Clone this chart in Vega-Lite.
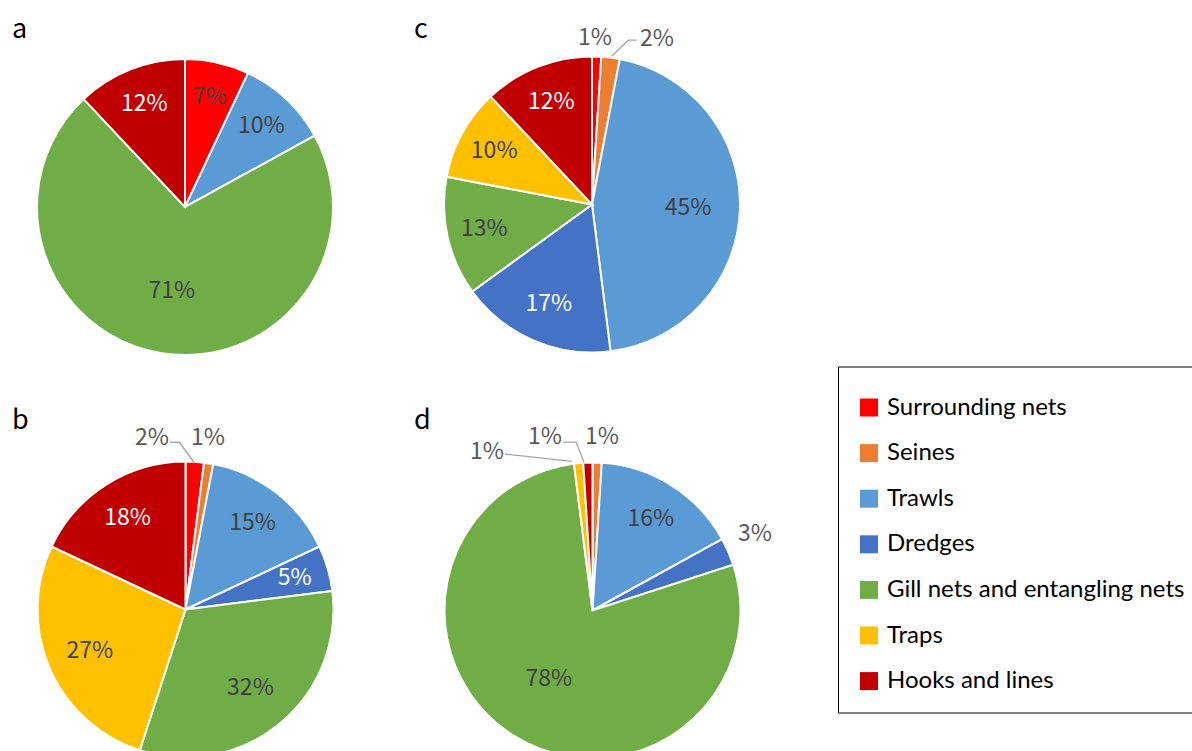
{
  "$schema": "https://vega.github.io/schema/vega-lite/v6.json",
  "background": "white",
  "padding": {"left": 12, "top": 15.5, "right": 0, "bottom": 0},
  "autosize": {"type": "pad"},
  "columns": 2,
  "spacing": {"row": 20, "column": 0},
  "bounds": "flush",
  "datasets": {
    "shares": [
      {"panel": "a", "gear": "Surrounding nets", "no": 1, "share": 0.07},
      {"panel": "a", "gear": "Trawls", "no": 3, "share": 0.10},
      {"panel": "a", "gear": "Gill nets and entangling nets", "no": 5, "share": 0.71},
      {"panel": "a", "gear": "Hooks and lines", "no": 7, "share": 0.12},
      {"panel": "b", "gear": "Surrounding nets", "no": 1, "share": 0.02},
      {"panel": "b", "gear": "Seines", "no": 2, "share": 0.01},
      {"panel": "b", "gear": "Trawls", "no": 3, "share": 0.15},
      {"panel": "b", "gear": "Dredges", "no": 4, "share": 0.05},
      {"panel": "b", "gear": "Gill nets and entangling nets", "no": 5, "share": 0.32},
      {"panel": "b", "gear": "Traps", "no": 6, "share": 0.27},
      {"panel": "b", "gear": "Hooks and lines", "no": 7, "share": 0.18},
      {"panel": "c", "gear": "Surrounding nets", "no": 1, "share": 0.01},
      {"panel": "c", "gear": "Seines", "no": 2, "share": 0.02},
      {"panel": "c", "gear": "Trawls", "no": 3, "share": 0.45},
      {"panel": "c", "gear": "Dredges", "no": 4, "share": 0.17},
      {"panel": "c", "gear": "Gill nets and entangling nets", "no": 5, "share": 0.13},
      {"panel": "c", "gear": "Traps", "no": 6, "share": 0.10},
      {"panel": "c", "gear": "Hooks and lines", "no": 7, "share": 0.12},
      {"panel": "d", "gear": "Seines", "no": 2, "share": 0.01},
      {"panel": "d", "gear": "Trawls", "no": 3, "share": 0.16},
      {"panel": "d", "gear": "Dredges", "no": 4, "share": 0.03},
      {"panel": "d", "gear": "Gill nets and entangling nets", "no": 5, "share": 0.78},
      {"panel": "d", "gear": "Traps", "no": 6, "share": 0.01},
      {"panel": "d", "gear": "Hooks and lines", "no": 7, "share": 0.01}
    ],
    "callouts": [
      {"panel": "b", "gear": "Surrounding nets", "share": 0.02, "lx": -0.226, "ly": 1.162},
      {"panel": "b", "gear": "Seines", "share": 0.01, "lx": 0.152, "ly": 1.162},
      {"panel": "c", "gear": "Surrounding nets", "share": 0.01, "lx": 0.02, "ly": 1.128},
      {"panel": "c", "gear": "Seines", "share": 0.02, "lx": 0.439, "ly": 1.115},
      {"panel": "d", "gear": "Traps", "share": 0.01, "lx": -0.713, "ly": 1.074},
      {"panel": "d", "gear": "Hooks and lines", "share": 0.01, "lx": -0.321, "ly": 1.169},
      {"panel": "d", "gear": "Seines", "share": 0.01, "lx": 0.064, "ly": 1.169},
      {"panel": "d", "gear": "Dredges", "share": 0.03, "lx": 1.098, "ly": 0.514}
    ],
    "leaders": [
      {"panel": "b", "gear": "Surrounding nets", "pt": 1, "lx": -0.105, "ly": 1.130},
      {"panel": "b", "gear": "Surrounding nets", "pt": 2, "lx": -0.042, "ly": 1.130},
      {"panel": "b", "gear": "Surrounding nets", "pt": 3, "lx": 0.057, "ly": 0.995},
      {"panel": "c", "gear": "Seines", "pt": 1, "lx": 0.302, "ly": 1.110},
      {"panel": "c", "gear": "Seines", "pt": 2, "lx": 0.245, "ly": 1.110},
      {"panel": "c", "gear": "Seines", "pt": 3, "lx": 0.133, "ly": 1.002},
      {"panel": "d", "gear": "Traps", "pt": 1, "lx": -0.591, "ly": 1.057},
      {"panel": "d", "gear": "Traps", "pt": 2, "lx": -0.139, "ly": 1.007},
      {"panel": "d", "gear": "Hooks and lines", "pt": 1, "lx": -0.197, "ly": 1.137},
      {"panel": "d", "gear": "Hooks and lines", "pt": 2, "lx": -0.111, "ly": 1.137},
      {"panel": "d", "gear": "Hooks and lines", "pt": 3, "lx": -0.057, "ly": 1.002}
    ]
  },
  "concat": [
    {
      "title": {"text": "a", "offset": -24},
      "width": 402, "height": 370,
      "layer": [
        {
          "data": {"name": "shares"}, "transform": [{"filter": "datum.panel === 'a'"}],
          "mark": {"type": "arc", "outerRadius": 148, "stroke": "white", "strokeWidth": 2},
          "encoding": {
            "x": {"datum": 0, "type": "quantitative", "scale": {"domain": [-1.1689, 1.5473], "nice": false, "zero": false}, "axis": null},
            "y": {"datum": 0, "type": "quantitative", "scale": {"domain": [-1.2331, 1.2669], "nice": false, "zero": false}, "axis": null},
            "theta": {"field": "share", "type": "quantitative", "stack": true},
            "order": {"field": "no", "type": "quantitative"},
            "color": {"field": "gear", "type": "nominal",
              "scale": {"domain": ["Surrounding nets", "Seines", "Trawls", "Dredges", "Gill nets and entangling nets", "Traps", "Hooks and lines"], "range": ["#FF0000", "#ED7D31", "#5B9BD5", "#4472C4", "#70AD47", "#FFC000", "#C00000"]},
              "legend": {"orient": "none", "legendX": 826, "legendY": 347, "title": "\u00a0"}}
          }
        },
        {
          "data": {"name": "shares"}, "transform": [{"filter": "datum.panel === 'a'"}],
          "mark": {"type": "text", "font": "Noto Sans CJK JP", "fontSize": 23, "align": "center", "baseline": "middle"},
          "encoding": {
            "x": {"datum": 0, "type": "quantitative", "scale": {"domain": [-1.1689, 1.5473], "nice": false, "zero": false}, "axis": null},
            "y": {"datum": 0, "type": "quantitative", "scale": {"domain": [-1.2331, 1.2669], "nice": false, "zero": false}, "axis": null},
            "theta": {"field": "share", "type": "quantitative", "stack": true},
            "order": {"field": "no", "type": "quantitative"},
            "radius": {"field": "share", "type": "quantitative", "scale": {"type": "linear", "domain": [0, 1], "range": [116, 72], "zero": false}, "legend": null},
            "text": {"condition": {"test": "datum.share >= 0.05", "field": "share", "type": "quantitative", "format": ".0%"}, "value": ""},
            "color": {"condition": {"test": "datum.gear === 'Hooks and lines' || datum.gear === 'Dredges'", "value": "#FFFFFF"}, "value": "#404040"}
          }
        }
      ]
    },
    {
      "title": {"text": "c", "offset": -24},
      "width": 402, "height": 370,
      "layer": [
        {
          "data": {"name": "shares"}, "transform": [{"filter": "datum.panel === 'c'"}],
          "mark": {"type": "arc", "outerRadius": 148, "stroke": "white", "strokeWidth": 2},
          "encoding": {
            "x": {"datum": 0, "type": "quantitative", "scale": {"domain": [-1.2027, 1.5135], "nice": false, "zero": false}, "axis": null},
            "y": {"datum": 0, "type": "quantitative", "scale": {"domain": [-1.25, 1.25], "nice": false, "zero": false}, "axis": null},
            "theta": {"field": "share", "type": "quantitative", "stack": true},
            "order": {"field": "no", "type": "quantitative"},
            "color": {"field": "gear", "type": "nominal",
              "scale": {"domain": ["Surrounding nets", "Seines", "Trawls", "Dredges", "Gill nets and entangling nets", "Traps", "Hooks and lines"], "range": ["#FF0000", "#ED7D31", "#5B9BD5", "#4472C4", "#70AD47", "#FFC000", "#C00000"]},
              "legend": {"orient": "none", "legendX": 826, "legendY": 347, "title": "\u00a0"}}
          }
        },
        {
          "data": {"name": "shares"}, "transform": [{"filter": "datum.panel === 'c'"}],
          "mark": {"type": "text", "font": "Noto Sans CJK JP", "fontSize": 23, "align": "center", "baseline": "middle"},
          "encoding": {
            "x": {"datum": 0, "type": "quantitative", "scale": {"domain": [-1.2027, 1.5135], "nice": false, "zero": false}, "axis": null},
            "y": {"datum": 0, "type": "quantitative", "scale": {"domain": [-1.25, 1.25], "nice": false, "zero": false}, "axis": null},
            "theta": {"field": "share", "type": "quantitative", "stack": true},
            "order": {"field": "no", "type": "quantitative"},
            "radius": {"field": "share", "type": "quantitative", "scale": {"type": "linear", "domain": [0, 1], "range": [116, 72], "zero": false}, "legend": null},
            "text": {"condition": {"test": "datum.share >= 0.05", "field": "share", "type": "quantitative", "format": ".0%"}, "value": ""},
            "color": {"condition": {"test": "datum.gear === 'Hooks and lines' || datum.gear === 'Dredges'", "value": "#FFFFFF"}, "value": "#404040"}
          }
        },
        {
          "data": {"name": "leaders"}, "transform": [{"filter": "datum.panel === 'c'"}],
          "mark": {"type": "line", "color": "#A5A5A5", "strokeWidth": 1.3},
          "encoding": {
            "x": {"field": "lx", "type": "quantitative", "scale": {"domain": [-1.2027, 1.5135], "nice": false, "zero": false}, "axis": null},
            "y": {"field": "ly", "type": "quantitative", "scale": {"domain": [-1.25, 1.25], "nice": false, "zero": false}, "axis": null},
            "detail": {"field": "gear"},
            "order": {"field": "pt", "type": "quantitative"}
          }
        },
        {
          "data": {"name": "callouts"}, "transform": [{"filter": "datum.panel === 'c'"}],
          "mark": {"type": "text", "font": "Noto Sans CJK JP", "fontSize": 23, "align": "center", "baseline": "middle", "color": "#595959"},
          "encoding": {
            "x": {"field": "lx", "type": "quantitative", "scale": {"domain": [-1.2027, 1.5135], "nice": false, "zero": false}, "axis": null},
            "y": {"field": "ly", "type": "quantitative", "scale": {"domain": [-1.25, 1.25], "nice": false, "zero": false}, "axis": null},
            "text": {"field": "share", "type": "quantitative", "format": ".0%"}
          }
        }
      ]
    },
    {
      "title": {"text": "b", "offset": -25.5},
      "width": 402, "height": 370,
      "layer": [
        {
          "data": {"name": "shares"}, "transform": [{"filter": "datum.panel === 'b'"}],
          "mark": {"type": "arc", "outerRadius": 148, "stroke": "white", "strokeWidth": 2},
          "encoding": {
            "x": {"datum": 0, "type": "quantitative", "scale": {"domain": [-1.1723, 1.5439], "nice": false, "zero": false}, "axis": null},
            "y": {"datum": 0, "type": "quantitative", "scale": {"domain": [-1.1486, 1.3514], "nice": false, "zero": false}, "axis": null},
            "theta": {"field": "share", "type": "quantitative", "stack": true},
            "order": {"field": "no", "type": "quantitative"},
            "color": {"field": "gear", "type": "nominal",
              "scale": {"domain": ["Surrounding nets", "Seines", "Trawls", "Dredges", "Gill nets and entangling nets", "Traps", "Hooks and lines"], "range": ["#FF0000", "#ED7D31", "#5B9BD5", "#4472C4", "#70AD47", "#FFC000", "#C00000"]},
              "legend": {"orient": "none", "legendX": 826, "legendY": 347, "title": "\u00a0"}}
          }
        },
        {
          "data": {"name": "shares"}, "transform": [{"filter": "datum.panel === 'b'"}],
          "mark": {"type": "text", "font": "Noto Sans CJK JP", "fontSize": 23, "align": "center", "baseline": "middle"},
          "encoding": {
            "x": {"datum": 0, "type": "quantitative", "scale": {"domain": [-1.1723, 1.5439], "nice": false, "zero": false}, "axis": null},
            "y": {"datum": 0, "type": "quantitative", "scale": {"domain": [-1.1486, 1.3514], "nice": false, "zero": false}, "axis": null},
            "theta": {"field": "share", "type": "quantitative", "stack": true},
            "order": {"field": "no", "type": "quantitative"},
            "radius": {"field": "share", "type": "quantitative", "scale": {"type": "linear", "domain": [0, 1], "range": [116, 72], "zero": false}, "legend": null},
            "text": {"condition": {"test": "datum.share >= 0.05", "field": "share", "type": "quantitative", "format": ".0%"}, "value": ""},
            "color": {"condition": {"test": "datum.gear === 'Hooks and lines' || datum.gear === 'Dredges'", "value": "#FFFFFF"}, "value": "#404040"}
          }
        },
        {
          "data": {"name": "leaders"}, "transform": [{"filter": "datum.panel === 'b'"}],
          "mark": {"type": "line", "color": "#A5A5A5", "strokeWidth": 1.3},
          "encoding": {
            "x": {"field": "lx", "type": "quantitative", "scale": {"domain": [-1.1723, 1.5439], "nice": false, "zero": false}, "axis": null},
            "y": {"field": "ly", "type": "quantitative", "scale": {"domain": [-1.1486, 1.3514], "nice": false, "zero": false}, "axis": null},
            "detail": {"field": "gear"},
            "order": {"field": "pt", "type": "quantitative"}
          }
        },
        {
          "data": {"name": "callouts"}, "transform": [{"filter": "datum.panel === 'b'"}],
          "mark": {"type": "text", "font": "Noto Sans CJK JP", "fontSize": 23, "align": "center", "baseline": "middle", "color": "#595959"},
          "encoding": {
            "x": {"field": "lx", "type": "quantitative", "scale": {"domain": [-1.1723, 1.5439], "nice": false, "zero": false}, "axis": null},
            "y": {"field": "ly", "type": "quantitative", "scale": {"domain": [-1.1486, 1.3514], "nice": false, "zero": false}, "axis": null},
            "text": {"field": "share", "type": "quantitative", "format": ".0%"}
          }
        }
      ]
    },
    {
      "title": {"text": "d", "offset": -25.5},
      "width": 402, "height": 370,
      "layer": [
        {
          "data": {"name": "shares"}, "transform": [{"filter": "datum.panel === 'd'"}],
          "mark": {"type": "arc", "outerRadius": 148, "stroke": "white", "strokeWidth": 2},
          "encoding": {
            "x": {"datum": 0, "type": "quantitative", "scale": {"domain": [-1.2061, 1.5101], "nice": false, "zero": false}, "axis": null},
            "y": {"datum": 0, "type": "quantitative", "scale": {"domain": [-1.1419, 1.3581], "nice": false, "zero": false}, "axis": null},
            "theta": {"field": "share", "type": "quantitative", "stack": true},
            "order": {"field": "no", "type": "quantitative"},
            "color": {"field": "gear", "type": "nominal",
              "scale": {"domain": ["Surrounding nets", "Seines", "Trawls", "Dredges", "Gill nets and entangling nets", "Traps", "Hooks and lines"], "range": ["#FF0000", "#ED7D31", "#5B9BD5", "#4472C4", "#70AD47", "#FFC000", "#C00000"]},
              "legend": {"orient": "none", "legendX": 826, "legendY": 347, "title": "\u00a0"}}
          }
        },
        {
          "data": {"name": "shares"}, "transform": [{"filter": "datum.panel === 'd'"}],
          "mark": {"type": "text", "font": "Noto Sans CJK JP", "fontSize": 23, "align": "center", "baseline": "middle"},
          "encoding": {
            "x": {"datum": 0, "type": "quantitative", "scale": {"domain": [-1.2061, 1.5101], "nice": false, "zero": false}, "axis": null},
            "y": {"datum": 0, "type": "quantitative", "scale": {"domain": [-1.1419, 1.3581], "nice": false, "zero": false}, "axis": null},
            "theta": {"field": "share", "type": "quantitative", "stack": true},
            "order": {"field": "no", "type": "quantitative"},
            "radius": {"field": "share", "type": "quantitative", "scale": {"type": "linear", "domain": [0, 1], "range": [116, 72], "zero": false}, "legend": null},
            "text": {"condition": {"test": "datum.share >= 0.05", "field": "share", "type": "quantitative", "format": ".0%"}, "value": ""},
            "color": {"condition": {"test": "datum.gear === 'Hooks and lines' || datum.gear === 'Dredges'", "value": "#FFFFFF"}, "value": "#404040"}
          }
        },
        {
          "data": {"name": "leaders"}, "transform": [{"filter": "datum.panel === 'd'"}],
          "mark": {"type": "line", "color": "#A5A5A5", "strokeWidth": 1.3},
          "encoding": {
            "x": {"field": "lx", "type": "quantitative", "scale": {"domain": [-1.2061, 1.5101], "nice": false, "zero": false}, "axis": null},
            "y": {"field": "ly", "type": "quantitative", "scale": {"domain": [-1.1419, 1.3581], "nice": false, "zero": false}, "axis": null},
            "detail": {"field": "gear"},
            "order": {"field": "pt", "type": "quantitative"}
          }
        },
        {
          "data": {"name": "callouts"}, "transform": [{"filter": "datum.panel === 'd'"}],
          "mark": {"type": "text", "font": "Noto Sans CJK JP", "fontSize": 23, "align": "center", "baseline": "middle", "color": "#595959"},
          "encoding": {
            "x": {"field": "lx", "type": "quantitative", "scale": {"domain": [-1.2061, 1.5101], "nice": false, "zero": false}, "axis": null},
            "y": {"field": "ly", "type": "quantitative", "scale": {"domain": [-1.1419, 1.3581], "nice": false, "zero": false}, "axis": null},
            "text": {"field": "share", "type": "quantitative", "format": ".0%"}
          }
        }
      ]
    }
  ],
  "config": {
    "view": {"stroke": null},
    "title": {"anchor": "start", "frame": "group", "font": "Noto Sans CJK JP", "fontSize": 27, "fontWeight": "normal", "color": "#000000"},
    "legend": {
      "symbolType": "square", "symbolSize": 324, "symbolStrokeWidth": 0,
      "labelFont": "Lato", "labelFontSize": 24, "labelColor": "#000000", "labelLimit": 500, "labelOffset": 6,
      "rowPadding": 21.6, "padding": 19, "strokeColor": "#000000",
      "titleFontSize": 6, "titlePadding": 4
    }
  }
}
